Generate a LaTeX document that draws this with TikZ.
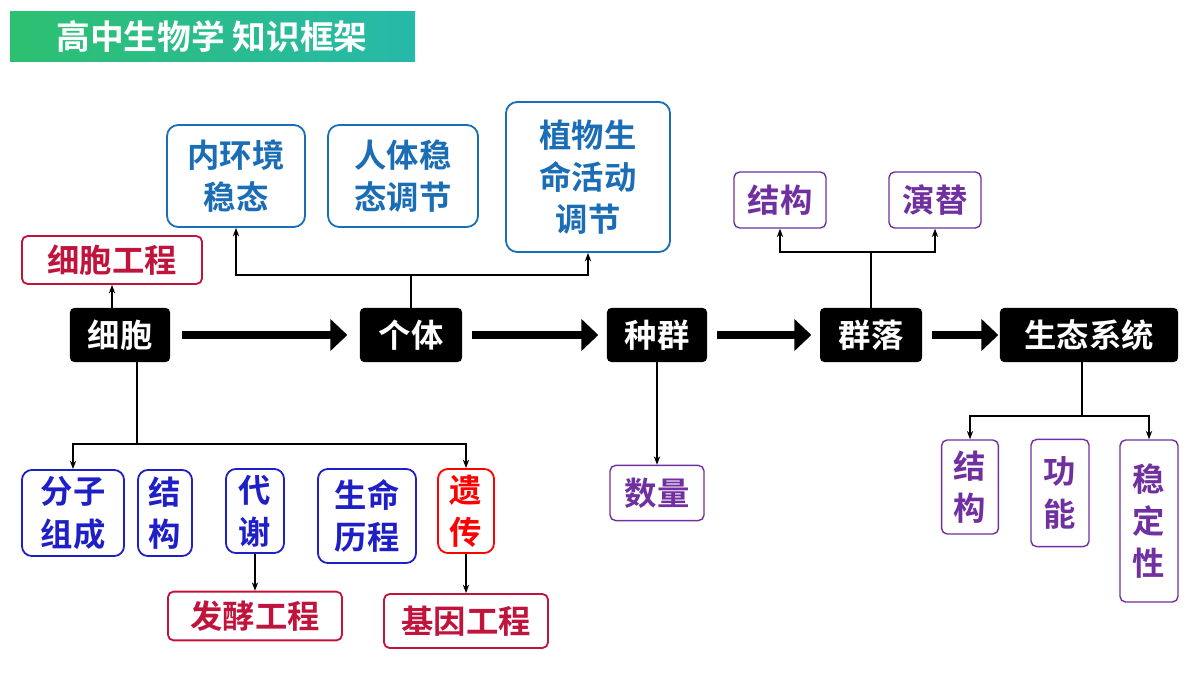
\documentclass[tikz,border=0pt]{standalone}
\usepackage{fontspec}
\newfontfamily\cjk{Noto Sans CJK SC}[BoldFont={Noto Sans CJK SC Bold}]
\usetikzlibrary{arrows.meta,positioning}
\definecolor{hdgreen}{HTML}{2DC071}
\definecolor{hdteal}{HTML}{27B9A9}
\definecolor{lvblue}{HTML}{1B6EB5}
\definecolor{cellblue}{HTML}{1F1FC8}
\definecolor{engred}{HTML}{C0143C}
\definecolor{ecopurple}{HTML}{7030A0}
\begin{document}
\begin{tikzpicture}[x=0.025cm,y=-0.025cm,
    every node/.append style={font=\cjk\bfseries\fontsize{23}{30}\selectfont, inner sep=0pt, align=center},
    level/.style={fill=black, text=white, rounded corners=3pt, minimum height=1.35cm},
    blue box/.style={draw=lvblue, line width=1.3pt, text=lvblue, rounded corners=8pt, fill=white},
    cell box/.style={draw=cellblue, line width=1.3pt, text=cellblue, rounded corners=7pt},
    eng box/.style={draw=engred, line width=1.3pt, text=engred, rounded corners=4pt},
    eco box/.style={draw=ecopurple, line width=1pt, text=ecopurple, rounded corners=4pt},
    link/.style={thick, -{Stealth[length=6pt]}},
    big arrow/.style={line width=6pt, -{Triangle[length=12pt,width=22pt]}}
]
    \useasboundingbox (0,0) rectangle (1200,675);

    % title
    \shade[left color=hdgreen, right color=hdteal] (10,12) rectangle (415,62);
    \node[text=white, font=\cjk\bfseries\fontsize{24}{26}\selectfont] (title) at (212,37) {高中生物学 知识框架};

    % levels
    \node[level, minimum width=2.5cm] (cell) at (120,335) {细胞};
    \node[level, minimum width=2.55cm] (indiv) at (411,335) {个体};
    \node[level, minimum width=2.5cm] (popu) at (657,335) {种群};
    \node[level, minimum width=2.55cm] (comm) at (871,335) {群落};
    \node[level, minimum width=4.45cm] (eco) at (1089,335) {生态系统};
    \draw[big arrow] (cell.east) ++(12,0) -- ++(165,0);
    \draw[big arrow] (indiv.east) ++(10,0) -- ++(126,0);
    \draw[big arrow] (popu.east) ++(10,0) -- ++(94,0);
    \draw[big arrow] (comm.east) ++(10,0) -- ++(66,0);

    % individual
    \node[blue box, minimum width=3.45cm, minimum height=2.55cm] (env) at (236,176) {内环境\\稳态};
    \node[blue box, minimum width=3.75cm, minimum height=2.55cm] (human) at (403,176) {人体稳\\态调节};
    \node[blue box, minimum width=4.1cm, minimum height=3.75cm] (plant) at (588,177) {植物生\\命活动\\调节};
    \coordinate (indivtop) at (411,275);
    \draw[thick] (indiv.north) -- (indivtop);
    \draw[link] (indivtop) -| (env.south);
    \draw[link] (indivtop) -| (plant.south);

    % cell
    \node[eng box, minimum width=4.5cm, minimum height=1.2cm] (celleng) at (112,260) {细胞工程};
    \draw[link] (cell.north -| celleng) -- (celleng.south);
    \node[cell box, minimum width=2.55cm, minimum height=2.15cm] (mol) at (73,513) {分子\\组成};
    \node[cell box, minimum width=1.35cm, minimum height=2.15cm] (struct) at (165,513) {结\\构};
    \node[cell box, minimum width=1.45cm, minimum height=2.1cm] (meta) at (255,511) {代\\谢};
    \node[cell box, minimum width=2.45cm, minimum height=2.35cm] (life) at (367,516) {生命\\历程};
    \node[eng box, draw=red, text=red, rounded corners=7pt, minimum width=1.4cm, minimum height=2.1cm] (gene) at (466,511) {遗\\传};
    \coordinate (cellbot) at (137,444);
    \draw[thick] (cell.south -| cellbot) -- (cellbot);
    \draw[link] (cellbot) -| (mol.north);
    \draw[link] (cellbot) -| (gene.north);
    \node[eng box, minimum width=4.35cm, minimum height=1.22cm] (ferm) at (255,616) {发酵工程};
    \node[eng box, minimum width=4.1cm, minimum height=1.35cm] (geneng) at (466,621) {基因工程};
    \draw[link] (meta.south) -- (ferm.north);
    \draw[link] (gene.south) -- (geneng.north);

    % population
    \node[eco box, minimum width=2.35cm, minimum height=1.38cm] (amount) at (657,493) {数量};
    \draw[link] (popu.south) -- (amount.north);

    % community
    \node[eco box, minimum width=2.3cm, minimum height=1.4cm] (cstruct) at (780,200) {结构};
    \node[eco box, minimum width=2.3cm, minimum height=1.4cm] (succ) at (935,200) {演替};
    \coordinate (commtop) at (871,252);
    \draw[thick] (comm.north) -- (commtop);
    \draw[link] (commtop) -| (cstruct.south);
    \draw[link] (commtop) -| (succ.south);

    % ecosystem
    \node[eco box, minimum width=1.42cm, minimum height=2.35cm] (estruct) at (970,487) {结\\构};
    \node[eco box, minimum width=1.45cm, minimum height=2.68cm] (func) at (1060,493) {功\\能};
    \node[eco box, minimum width=1.45cm, minimum height=4.05cm] (stab) at (1149,521) {稳\\定\\性};
    \coordinate (ecobot) at (1082,416);
    \draw[thick] (eco.south -| ecobot) -- (ecobot);
    \draw[link] (ecobot) -| (estruct.north);
    \draw[link] (ecobot) -| (stab.north);
\end{tikzpicture}
\end{document}
